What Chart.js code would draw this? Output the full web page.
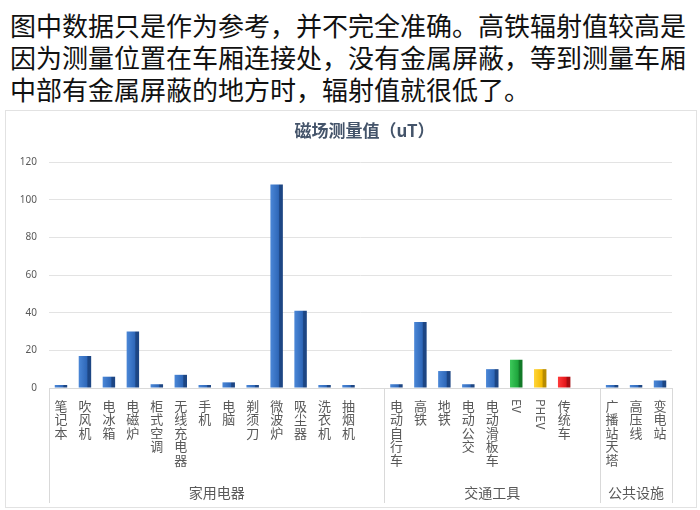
<!DOCTYPE html>
<html>
<head>
<meta charset="utf-8">
<script src="https://cdn.jsdelivr.net/npm/chart.js@4"></script>
<style>
  body { margin: 0; background: #fff; width: 700px; height: 510px; overflow: hidden; position: relative; }
  #note {
    position: absolute; left: 10px; top: 9px;
    font: 26px "Noto Sans CJK SC", sans-serif; line-height: 32px; color: #111;
    white-space: nowrap;
  }
  #box {
    position: absolute; left: 5px; top: 110px; width: 690px; height: 396px;
    border: 1px solid #e2e2e2;
  }
</style>
</head>
<body>
<div id="note">图中数据只是作为参考，并不完全准确。高铁辐射值较高是<br>因为测量位置在车厢连接处，没有金属屏蔽，等到测量车厢<br>中部有金属屏蔽的地方时，辐射值就很低了。</div>
<div id="box"><canvas id="chart" width="690" height="396"></canvas></div>
<script>
// data
const chartTitle = "磁场测量值（uT）";
const categories = [
  "笔记本", "吹风机", "电冰箱", "电磁炉", "柜式空调", "无线充电器", "手机", "电脑", "剃须刀", "微波炉", "吸尘器", "洗衣机", "抽烟机", "",
  "电动自行车", "高铁", "地铁", "电动公交", "电动滑板车", "EV", "PHEV", "传统车", "",
  "广播站天塔", "高压线", "变电站"
];
const values = [
  1, 17, 6, 30, 2, 7, 0.3, 3, 1, 108, 41, 0.3, 0.3, null,
  2, 35, 9, 2, 10, 15, 10, 6, null,
  0.3, 0.3, 4
];
const barColors = [
  "blue", "blue", "blue", "blue", "blue", "blue", "blue", "blue", "blue", "blue", "blue", "blue", "blue", "blue",
  "blue", "blue", "blue", "blue", "blue", "green", "yellow", "red", "blue",
  "blue", "blue", "blue"
];
const groupNames = ["家用电器", "交通工具", "公共设施"];
const groupSizes = [14, 9, 3];
const yTicks = [0, 20, 40, 60, 80, 100, 120];

// 3D-ish shading for each colour
const palettes = {
  blue:   ["#4a86d6", "#2f68b9", "#1d4684"],
  green:  ["#3cc85a", "#1ea53c", "#127a28"],
  yellow: ["#ffd43a", "#f3bb00", "#b88c00"],
  red:    ["#ff3a3a", "#e31419", "#a80c10"]
};

function barFill(ctx) {
  const chart = ctx.chart;
  const p = palettes[barColors[ctx.dataIndex]] || palettes.blue;
  if (!chart.chartArea) return p[1];
  const x = chart.scales.x.getPixelForValue(ctx.dataIndex);
  const g = chart.ctx.createLinearGradient(x - 6, 0, x + 6, 0);
  g.addColorStop(0, p[0]);
  g.addColorStop(0.65, p[1]);
  g.addColorStop(0.75, p[2]);
  g.addColorStop(1, p[2]);
  return g;
}

// title over the plot, category + group labels under the axis
const catAxis = {
  id: "catAxis",
  afterDraw(chart) {
    const { ctx, chartArea } = chart;
    const xs = chart.scales.x;
    const slot = xs.getPixelForValue(1) - xs.getPixelForValue(0);
    ctx.save();
    ctx.textAlign = "center";
    ctx.textBaseline = "middle";

    ctx.fillStyle = "#44546a";
    ctx.font = 'bold 17px "Noto Sans CJK SC", sans-serif';
    ctx.fillText(chartTitle, (chartArea.left + chartArea.right) / 2 + 4, chartArea.top - 31);

    ctx.fillStyle = "#595959";
    ctx.font = '13px "Noto Sans CJK SC", sans-serif';
    categories.forEach((c, i) => {
      if (!c) return;
      const x = xs.getPixelForValue(i);
      if (/^[A-Za-z]+$/.test(c)) {
        ctx.save();
        ctx.translate(x, chartArea.bottom + 11);
        ctx.rotate(Math.PI / 2);
        ctx.textAlign = "left";
        ctx.font = '12px "Noto Sans CJK SC", sans-serif';
        ctx.fillText(c, 0, 0);
        ctx.restore();
      } else {
        [...c].forEach((ch, k) => ctx.fillText(ch, x, chartArea.bottom + 18 + k * 13.5));
      }
    });

    // group separators and names
    ctx.strokeStyle = "#d9d9d9";
    ctx.lineWidth = 1;
    let start = 0;
    const edges = [xs.getPixelForValue(0) - slot / 2];
    groupSizes.forEach((n, g) => {
      const left = xs.getPixelForValue(start) - slot / 2;
      const right = xs.getPixelForValue(start + n - 1) + slot / 2;
      edges.push(right);
      ctx.font = '14px "Noto Sans CJK SC", sans-serif';
      ctx.fillText(groupNames[g], (left + right) / 2, chartArea.bottom + 105);
      start += n;
    });
    edges.forEach(e => {
      ctx.beginPath();
      ctx.moveTo(Math.round(e) + 0.5, chartArea.bottom);
      ctx.lineTo(Math.round(e) + 0.5, chart.height - 4);
      ctx.stroke();
    });
    ctx.beginPath();
    ctx.moveTo(edges[0], chartArea.bottom + 0.5);
    ctx.lineTo(edges[edges.length - 1], chartArea.bottom + 0.5);
    ctx.stroke();
    ctx.restore();
  }
};

new Chart(document.getElementById("chart"), {
  type: "bar",
  data: {
    labels: categories,
    datasets: [{
      data: values,
      backgroundColor: barFill,
      barPercentage: 0.52,
      categoryPercentage: 1,
      minBarLength: 3
    }]
  },
  options: {
    responsive: false,
    animation: false,
    layout: { padding: { right: 24, left: 0, top: 51, bottom: 0 } },
    plugins: {
      legend: { display: false },
      tooltip: { enabled: false },
      title: { display: false }
    },
    scales: {
      x: {
        ticks: { display: false },
        grid: { display: false },
        border: { display: false },
        afterFit: s => { s.height = 119; }
      },
      y: {
        min: 0,
        max: 120,
        afterBuildTicks: s => { s.ticks = yTicks.map(v => ({ value: v })); },
        ticks: { color: "#595959", padding: 12, font: { family: '"Noto Sans", sans-serif', size: 10 } },
        grid: { color: "#e3e3e3", drawTicks: false },
        border: { display: false },
        afterFit: s => { s.width = 43; }
      }
    }
  },
  plugins: [catAxis]
});
</script>
</body>
</html>
